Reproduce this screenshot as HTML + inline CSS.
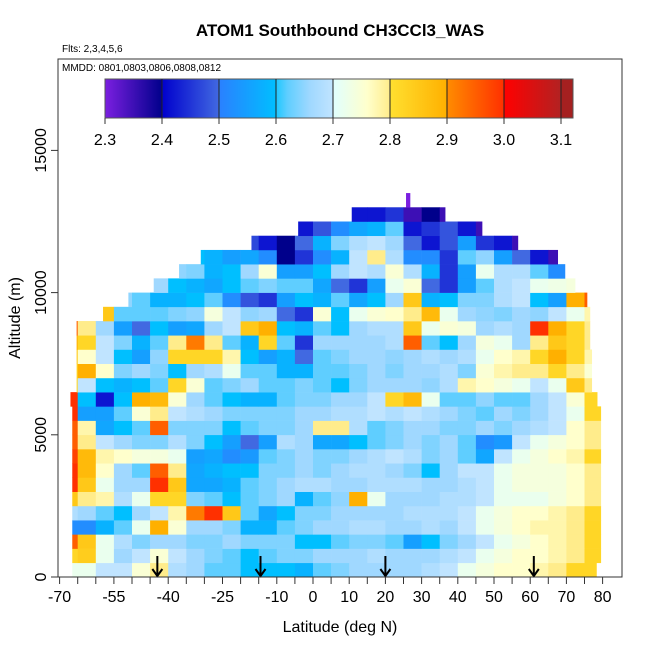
<!DOCTYPE html>
<html><head><meta charset="utf-8"><style>
body{margin:0;background:#fff;}
svg{display:block;font-family:"Liberation Sans",Arial,sans-serif;}
</style></head><body>
<svg id="chart" width="650" height="650" viewBox="0 0 650 650">
<rect x="0" y="0" width="650" height="650" fill="#fff"/>
<g id="cells"></g>
<g id="arrows"></g>
<rect x="58" y="59" width="564" height="518" fill="none" stroke="#333" stroke-width="1"/>
<text x="340" y="36" text-anchor="middle" font-size="17" font-weight="bold">ATOM1 Southbound CH3CCl3_WAS</text>
<text x="62" y="52" font-size="10">Flts: 2,3,4,5,6</text>
<text x="62" y="71" font-size="10">MMDD: 0801,0803,0806,0808,0812</text>
<g id="cbar"></g>
<g id="axes"></g>
<text x="340" y="632" text-anchor="middle" font-size="16">Latitude (deg N)</text>
<text transform="translate(20,318) rotate(-90)" text-anchor="middle" font-size="16">Altitude (m)</text>
</svg>
<script>
const colStartLat = [-70,-65,-60,-55,-50,-45,-40,-35,-30,-25,-20,-15,-10,-5,0,5,10,15,20,25,30,35,40,45,50,55,60,65,70,75];
const rowBaseAlt = [0,500,1000,1500,2000,2500,3000,3500,4000,4500,5000,5500,6000,6500,7000,7500,8000,8500,9000,9500,10000,10500,11000,11500,12000,12500,13000];
const rowLatMin = [-66.5,-66.5,-66.5,-66.5,-66.5,-66.5,-66.5,-66.5,-66.5,-66.5,-66.5,-66.5,-67,-65.3,-65.3,-65.3,-65.3,-65.3,-58,-51,-44,-37,-31,-17,-4.1,10.7,25.7];
const rowLatMax = [78.3,79.5,79.5,79.5,79.5,79.5,79.5,79.5,79.5,79.5,79.5,79.5,78.5,77,77,77,76.5,76.5,76.5,75.7,72.4,69.6,67.6,56.6,46.7,36.5,26.8];
const values = [
[2.72,2.72,2.7,2.7,2.75,2.8,2.68,2.66,2.62,2.62,2.6,2.6,2.6,2.58,2.62,2.64,2.66,2.66,2.66,2.66,2.68,2.7,2.72,2.74,2.76,2.76,2.78,2.8,2.82,2.82],
[2.82,2.84,2.72,2.66,2.7,2.75,2.7,2.66,2.64,2.62,2.6,2.62,2.64,2.64,2.66,2.66,2.66,2.68,2.66,2.66,2.66,2.68,2.7,2.72,2.74,2.76,2.76,2.78,2.8,2.82],
[2.95,2.85,2.72,2.68,2.64,2.66,2.66,2.64,2.64,2.66,2.64,2.64,2.64,2.6,2.6,2.62,2.64,2.64,2.62,2.55,2.6,2.64,2.66,2.7,2.72,2.74,2.76,2.78,2.8,2.82],
[2.52,2.52,2.58,2.62,2.72,2.9,2.75,2.66,2.66,2.64,2.58,2.58,2.62,2.64,2.66,2.66,2.68,2.68,2.66,2.66,2.68,2.66,2.7,2.72,2.74,2.76,2.78,2.78,2.8,2.82],
[2.68,2.66,2.62,2.6,2.66,2.7,2.78,2.92,3.0,2.85,2.62,2.56,2.6,2.64,2.64,2.66,2.66,2.66,2.66,2.68,2.68,2.68,2.7,2.72,2.74,2.76,2.76,2.78,2.8,2.82],
[2.85,2.8,2.78,2.68,2.72,2.82,2.82,2.64,2.62,2.6,2.62,2.64,2.66,2.58,2.62,2.65,2.9,2.72,2.66,2.66,2.66,2.68,2.68,2.7,2.72,2.72,2.72,2.74,2.76,2.8],
[3.0,2.85,2.72,2.66,2.66,3.0,2.85,2.56,2.56,2.58,2.62,2.64,2.66,2.68,2.68,2.66,2.66,2.68,2.68,2.68,2.66,2.66,2.68,2.7,2.72,2.74,2.74,2.74,2.76,2.8],
[3.0,2.88,2.76,2.66,2.62,2.95,2.8,2.56,2.58,2.6,2.6,2.64,2.64,2.66,2.64,2.66,2.68,2.68,2.66,2.64,2.6,2.66,2.7,2.7,2.72,2.74,2.74,2.74,2.76,2.8],
[2.98,2.88,2.78,2.76,2.74,2.74,2.72,2.55,2.56,2.52,2.54,2.62,2.64,2.66,2.64,2.64,2.66,2.68,2.7,2.68,2.64,2.66,2.62,2.56,2.7,2.72,2.74,2.76,2.78,2.82],
[2.95,2.8,2.7,2.66,2.64,2.64,2.68,2.64,2.6,2.55,2.5,2.55,2.68,2.66,2.56,2.56,2.6,2.62,2.64,2.66,2.64,2.66,2.62,2.52,2.54,2.7,2.72,2.74,2.76,2.8],
[2.95,2.78,2.56,2.6,2.62,2.95,2.64,2.64,2.64,2.6,2.62,2.64,2.64,2.66,2.8,2.8,2.68,2.62,2.64,2.66,2.66,2.64,2.64,2.66,2.64,2.66,2.68,2.7,2.76,2.8],
[3.0,2.55,2.55,2.62,2.75,2.8,2.7,2.68,2.66,2.64,2.64,2.64,2.64,2.66,2.66,2.68,2.68,2.7,2.68,2.7,2.68,2.66,2.64,2.62,2.66,2.64,2.66,2.7,2.72,2.82],
[3.0,2.6,2.42,2.6,2.9,2.88,2.75,2.66,2.62,2.6,2.58,2.58,2.62,2.64,2.64,2.66,2.66,2.7,2.82,2.88,2.72,2.62,2.62,2.65,2.62,2.62,2.66,2.7,2.75,2.82],
[2.82,2.7,2.6,2.58,2.6,2.62,2.82,2.75,2.62,2.64,2.66,2.62,2.62,2.64,2.62,2.6,2.64,2.66,2.66,2.66,2.65,2.68,2.78,2.76,2.74,2.72,2.7,2.72,2.85,2.8],
[2.82,2.9,2.76,2.64,2.66,2.64,2.6,2.66,2.68,2.72,2.62,2.62,2.58,2.58,2.62,2.62,2.64,2.66,2.64,2.66,2.66,2.68,2.64,2.75,2.78,2.8,2.8,2.82,2.8,2.75],
[2.85,2.76,2.7,2.6,2.55,2.65,2.82,2.82,2.82,2.78,2.6,2.55,2.58,2.5,2.62,2.64,2.66,2.66,2.65,2.66,2.68,2.66,2.68,2.72,2.76,2.78,2.82,2.9,2.82,2.78],
[2.9,2.82,2.7,2.64,2.58,2.62,2.8,2.92,2.8,2.62,2.58,2.82,2.62,2.45,2.66,2.66,2.66,2.66,2.68,2.95,2.62,2.6,2.66,2.74,2.72,2.66,2.8,2.85,2.82,2.8],
[2.95,2.8,2.66,2.55,2.5,2.6,2.55,2.56,2.66,2.7,2.85,2.9,2.6,2.58,2.62,2.6,2.66,2.68,2.68,2.85,2.72,2.75,2.74,2.66,2.68,2.66,3.0,2.9,2.82,2.8],
[2.85,2.85,2.85,2.62,2.62,2.62,2.64,2.65,2.74,2.7,2.65,2.66,2.5,2.45,2.75,2.6,2.72,2.75,2.76,2.8,2.88,2.72,2.66,2.65,2.64,2.66,2.65,2.7,2.72,2.78],
[2.65,2.65,2.65,2.65,2.62,2.58,2.58,2.6,2.62,2.52,2.48,2.45,2.55,2.6,2.58,2.62,2.56,2.6,2.66,2.85,2.58,2.6,2.64,2.64,2.68,2.7,2.6,2.55,2.9,2.95],
[2.66,2.66,2.66,2.66,2.66,2.66,2.6,2.58,2.56,2.6,2.62,2.64,2.62,2.62,2.56,2.5,2.45,2.55,2.72,2.75,2.5,2.45,2.55,2.62,2.68,2.7,2.72,2.73,2.74,2.74],
[2.65,2.65,2.65,2.65,2.65,2.65,2.65,2.64,2.58,2.6,2.66,2.75,2.55,2.55,2.6,2.66,2.7,2.68,2.75,2.68,2.58,2.45,2.55,2.72,2.68,2.68,2.62,2.52,2.52,2.52],
[2.6,2.6,2.6,2.6,2.6,2.6,2.6,2.6,2.58,2.55,2.56,2.52,2.4,2.45,2.52,2.58,2.7,2.8,2.68,2.52,2.52,2.45,2.62,2.65,2.55,2.5,2.42,2.35,2.35,2.35],
[2.47,2.47,2.47,2.47,2.47,2.47,2.47,2.47,2.47,2.47,2.47,2.42,2.4,2.5,2.58,2.64,2.68,2.7,2.66,2.5,2.42,2.48,2.55,2.45,2.42,2.35,2.35,2.35,2.35,2.35],
[2.42,2.42,2.42,2.42,2.42,2.42,2.42,2.42,2.42,2.42,2.42,2.42,2.42,2.42,2.48,2.52,2.56,2.58,2.62,2.42,2.45,2.48,2.42,2.35,2.35,2.35,2.35,2.35,2.35,2.35],
[2.42,2.42,2.42,2.42,2.42,2.42,2.42,2.42,2.42,2.42,2.42,2.42,2.42,2.42,2.42,2.42,2.42,2.42,2.45,2.35,2.4,2.35,2.35,2.35,2.35,2.35,2.35,2.35,2.35,2.35],
[2.3,2.3,2.3,2.3,2.3,2.3,2.3,2.3,2.3,2.3,2.3,2.3,2.3,2.3,2.3,2.3,2.3,2.3,2.3,2.3,2.3,2.3,2.3,2.3,2.3,2.3,2.3,2.3,2.3,2.3]
];
const arrowLats = [-43,-14.5,20,61];
const xTickLabels = [-70,-55,-40,-25,-10,0,10,20,30,40,50,60,70,80];
const yTickLabels = [0,5000,10000,15000];
const cbarTicks = [2.3,2.4,2.5,2.6,2.7,2.8,2.9,3.0,3.1];

const NS = "http://www.w3.org/2000/svg";
function xOf(lat){return 313 + 3.62*lat;}
function yOf(alt){return 577 - 0.02844*alt;}
function cbX(v){return 105 + (v-2.3)*570;}
const stops = [
[2.3,[123,31,224]],[2.4,[0,0,139]],[2.4001,[0,0,205]],[2.5,[65,105,225]],[2.5001,[42,128,255]],[2.6,[0,191,255]],
[2.6001,[30,200,255]],[2.62,[95,206,255]],[2.66,[160,216,255]],[2.7,[192,228,255]],[2.7001,[224,255,255]],[2.76,[255,255,204]],[2.8,[255,236,139]],
[2.8001,[255,224,48]],[2.9,[255,176,0]],[2.9001,[255,140,0]],[3.0,[255,48,0]],[3.0001,[255,0,0]],[3.1,[178,34,34]],[3.1001,[165,32,32]],[3.2,[165,32,32]]];
function colorOf(v){
  if(v<=stops[0][0]) return 'rgb('+stops[0][1]+')';
  for(let i=1;i<stops.length;i++){
    if(v<=stops[i][0]){
      const a=stops[i-1],b=stops[i],t=(v-a[0])/(b[0]-a[0]);
      const c=a[1].map((x,k)=>Math.round(x+(b[1][k]-x)*t));
      return 'rgb('+c.join(',')+')';
    }
  }
  return 'rgb(165,32,32)';
}
function mk(tag,attrs,parent){const e=document.createElementNS(NS,tag);for(const k in attrs)e.setAttribute(k,attrs[k]);parent.appendChild(e);return e;}

const cells=document.getElementById('cells');
for(let r=0;r<rowBaseAlt.length;r++){
  const y0=yOf(rowBaseAlt[r]+500), y1=yOf(rowBaseAlt[r]);
  for(let c=0;c<colStartLat.length;c++){
    const a=Math.max(colStartLat[c],rowLatMin[r]), b=Math.min(colStartLat[c]+5,rowLatMax[r]);
    if(b<=a) continue;
    const e=mk('rect',{x:xOf(a).toFixed(2),y:y0.toFixed(2),width:(xOf(b)-xOf(a)+0.3).toFixed(2),height:(y1-y0+0.3).toFixed(2),fill:colorOf(values[r][c])},cells);
    
    
  }
}
const arr=document.getElementById('arrows');
arrowLats.forEach(l=>{
  const x=xOf(l);
  const g=mk('g',{},arr);
  
  
  mk('line',{x1:x,y1:556,x2:x,y2:576,stroke:'#000','stroke-width':2},g);
  mk('path',{d:'M'+(x-5)+' 569 L'+x+' 576 L'+(x+5)+' 569',fill:'none',stroke:'#000','stroke-width':2},g);
});
const cb=document.getElementById('cbar');
const grad=mk('linearGradient',{id:'cbg',x1:'0',x2:'1',y1:'0',y2:'0'},mk('defs',{},cb));
stops.forEach(s=>{if(s[0]<=3.12) mk('stop',{offset:((cbX(s[0])-105)/(573-105)).toFixed(4),'stop-color':'rgb('+s[1]+')'},grad);});
const bar=mk('rect',{x:105,y:79,width:468,height:39,fill:'url(#cbg)',stroke:'#555','stroke-width':1},cb);


cbarTicks.forEach(v=>{
  const x=cbX(v);
  if(v>2.3) mk('line',{x1:x,y1:79,x2:x,y2:118,stroke:'#222','stroke-width':1},cb);
  mk('line',{x1:x,y1:118,x2:x,y2:124,stroke:'#333','stroke-width':1},cb);
  const t=mk('text',{x:x,y:145,'text-anchor':'middle','font-size':16},cb);
  t.textContent=v.toFixed(1);
  
  
});
const ax=document.getElementById('axes');
for(let l=-70;l<=80;l+=5){const x=xOf(l);mk('line',{x1:x,y1:577,x2:x,y2:584,stroke:'#333'},ax);}
xTickLabels.forEach(l=>{
  const t=mk('text',{x:xOf(l),y:602,'text-anchor':'middle','font-size':16},ax);
  t.textContent=String(l);
  
  
});
yTickLabels.forEach(a=>{
  const y=yOf(a);
  mk('line',{x1:51,y1:y,x2:58,y2:y,stroke:'#333'},ax);
  const t=mk('text',{transform:'translate(46,'+y+') rotate(-90)','text-anchor':'middle','font-size':16},ax);
  t.textContent=String(a);
  
  
});
</script>
</body></html>
